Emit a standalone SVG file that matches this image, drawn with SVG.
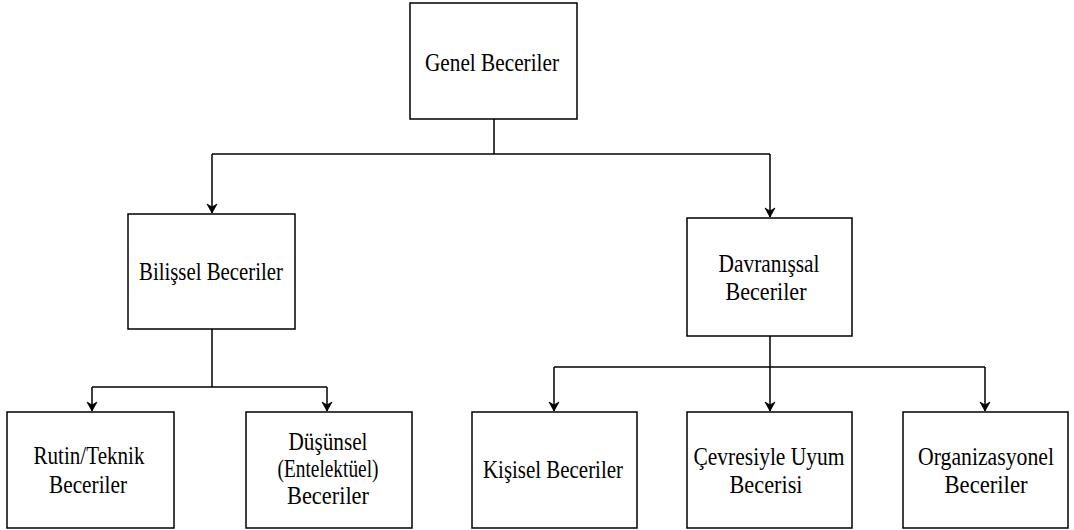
<svg xmlns="http://www.w3.org/2000/svg" width="1074" height="530" viewBox="0 0 1074 530">
<style>
.box{fill:#fff;stroke:#000;stroke-width:1.5}
.t{font-family:"Liberation Serif","Times New Roman",serif;font-size:25px;fill:#000;text-anchor:middle}
.c{fill:none;stroke:#000;stroke-width:1.5}
</style>
<defs>
<marker id="ah" viewBox="0 0 12 12" refX="10" refY="6" markerWidth="12" markerHeight="12" markerUnits="userSpaceOnUse" orient="auto">
<path d="M1,1 L10,6 L1,11 L4,6 z" fill="#000" stroke="#000" stroke-width="0.8" stroke-linejoin="miter"/>
</marker>
</defs>
<rect width="1074" height="530" fill="#fff"/>
<g id="connectors">
<path class="c" d="M494,119 V154"/>
<path class="c" d="M212,154 H770"/>
<path class="c" d="M212,154 V213" marker-end="url(#ah)"/>
<path class="c" d="M770,154 V217" marker-end="url(#ah)"/>
<path class="c" d="M212,329 V387"/>
<path class="c" d="M92,387 H327"/>
<path class="c" d="M92,387 V411" marker-end="url(#ah)"/>
<path class="c" d="M327,387 V411" marker-end="url(#ah)"/>
<path class="c" d="M770,336 V367"/>
<path class="c" d="M554,367 H985"/>
<path class="c" d="M554,367 V411" marker-end="url(#ah)"/>
<path class="c" d="M770,367 V411" marker-end="url(#ah)"/>
<path class="c" d="M985,367 V411" marker-end="url(#ah)"/>
</g>
<g id="genel">
<rect class="box" x="410" y="3" width="167" height="116"/>
<text class="t" x="492" y="71" textLength="134" lengthAdjust="spacingAndGlyphs">Genel Beceriler</text>
</g>
<g id="bilissel">
<rect class="box" x="128" y="214" width="167" height="115"/>
<text class="t" x="211" y="280" textLength="144" lengthAdjust="spacingAndGlyphs">Bilişsel Beceriler</text>
</g>
<g id="davranissal">
<rect class="box" x="687" y="218" width="165" height="118"/>
<text class="t" x="769" y="272" textLength="101" lengthAdjust="spacingAndGlyphs">Davranışsal</text>
<text class="t" x="766" y="300" textLength="81" lengthAdjust="spacingAndGlyphs">Beceriler</text>
</g>
<g id="rutin">
<rect class="box" x="7" y="412" width="167" height="116"/>
<text class="t" x="89" y="464" textLength="111" lengthAdjust="spacingAndGlyphs">Rutin/Teknik</text>
<text class="t" x="88" y="493" textLength="78" lengthAdjust="spacingAndGlyphs">Beceriler</text>
</g>
<g id="dusunsel">
<rect class="box" x="246" y="412" width="166" height="116"/>
<text class="t" x="328" y="450" textLength="79" lengthAdjust="spacingAndGlyphs">Düşünsel</text>
<text class="t" x="328" y="477" textLength="101" lengthAdjust="spacingAndGlyphs">(Entelektüel)</text>
<text class="t" x="328" y="504" textLength="82" lengthAdjust="spacingAndGlyphs">Beceriler</text>
</g>
<g id="kisisel">
<rect class="box" x="472" y="412" width="165" height="116"/>
<text class="t" x="553" y="478" textLength="140" lengthAdjust="spacingAndGlyphs">Kişisel Beceriler</text>
</g>
<g id="cevresiyle">
<rect class="box" x="687" y="412" width="165" height="116"/>
<text class="t" x="769" y="465" textLength="151" lengthAdjust="spacingAndGlyphs">Çevresiyle Uyum</text>
<text class="t" x="766" y="493" textLength="73" lengthAdjust="spacingAndGlyphs">Becerisi</text>
</g>
<g id="organizasyonel">
<rect class="box" x="903" y="412" width="165" height="116"/>
<text class="t" x="986" y="465" textLength="136" lengthAdjust="spacingAndGlyphs">Organizasyonel</text>
<text class="t" x="986" y="493" textLength="83" lengthAdjust="spacingAndGlyphs">Beceriler</text>
</g>
</svg>
